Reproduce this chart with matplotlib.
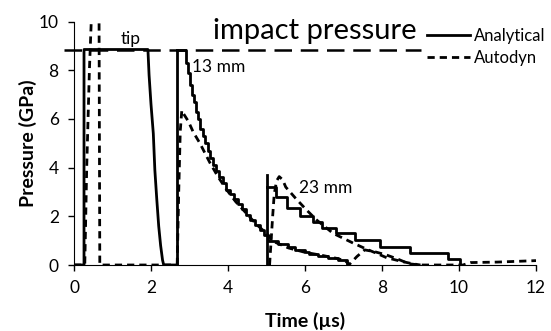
import matplotlib.pyplot as plt

plt.rcParams['font.family'] = ['Lato', 'DejaVu Sans']

# impact pressure level (GPa)
impact_pressure = 8.85

# Analytical, tip
tip_ana_t = [0.0, 0.26, 0.26, 1.92, 1.95, 2.0, 2.06, 2.1, 2.15, 2.2, 2.25, 2.3, 2.33, 2.67]
tip_ana_p = [0.0, 0.0, 8.85, 8.85, 7.8, 6.6, 5.4, 3.9, 2.7, 1.6, 0.8, 0.2, 0.0, 0.0]

# Analytical, 13 mm (stepped)
mm13_ana_t = [2.67, 2.92, 2.97, 3.02, 3.07, 3.12, 3.17, 3.22, 3.28, 3.34, 3.40, 3.47,
              3.54, 3.61, 3.69, 3.77, 3.86, 3.95, 4.05, 4.15, 4.25, 4.36, 4.47, 4.58,
              4.70, 4.82, 4.93, 5.03, 5.3, 5.55, 5.75, 6.0, 6.1, 6.35, 6.6, 6.85, 7.08]
mm13_ana_p = [8.85, 8.3, 7.9, 7.4, 7.0, 6.7, 6.3, 6.0, 5.6, 5.3, 5.0, 4.7,
              4.4, 4.1, 3.85, 3.6, 3.35, 3.1, 2.9, 2.7, 2.5, 2.3, 2.05, 1.85,
              1.65, 1.45, 1.25, 1.0, 0.85, 0.75, 0.62, 0.52, 0.45, 0.35, 0.28, 0.2, 0.0]

# Analytical, 23 mm (stepped)
mm23_ana_t = [5.0, 5.24, 5.53, 5.87, 6.2, 6.45, 6.8, 7.3, 7.95, 8.73, 9.72, 10.03]
mm23_ana_p = [3.2, 2.8, 2.35, 2.0, 1.75, 1.5, 1.3, 1.03, 0.75, 0.5, 0.25, 0.0]
mm23_ana_peak = 3.7

# Autodyn, tip (goes off scale)
tip_dyn_t = [0.0, 0.28, 0.33, 0.4, 0.46, 0.55, 0.65, 0.67, 2.68]
tip_dyn_p = [0.0, 0.0, 4.0, 8.0, 10.5, 12.0, 10.5, 0.0, 0.0]

# Autodyn, 13 mm
mm13_dyn_t = [2.68, 2.72, 2.76, 2.80, 2.85, 2.97, 3.1, 3.27, 3.53, 3.75, 3.97, 4.2, 4.49,
              4.75, 5.0, 5.2, 5.57, 6.0, 6.43, 6.8, 7.04, 7.15, 7.35, 7.55, 7.8, 8.1,
              8.4, 8.7, 9.0, 10.1, 10.3, 11.0, 12.0]
mm13_dyn_p = [0.0, 3.0, 5.5, 6.35, 6.2, 5.9, 5.45, 5.0, 4.2, 3.6, 3.08, 2.6, 2.1,
              1.65, 1.3, 0.95, 0.7, 0.52, 0.4, 0.28, 0.18, 0.02, 0.35, 0.62, 0.55, 0.42,
              0.25, 0.05, 0.0, 0.0, 0.1, 0.12, 0.18]

# Autodyn, 23 mm
mm23_dyn_t = [5.08, 5.12, 5.16, 5.2, 5.26, 5.33, 5.42, 5.5, 5.75, 6.04, 6.3, 6.73, 7.25,
              7.6, 7.86, 8.12, 8.5, 8.8, 9.0]
mm23_dyn_p = [0.0, 1.0, 2.0, 2.9, 3.45, 3.63, 3.5, 3.2, 2.75, 2.26, 1.85, 1.3, 0.9,
              0.65, 0.48, 0.3, 0.15, 0.05, 0.0]

fig = plt.figure(figsize=(5.51, 3.31), dpi=100)
ax = fig.add_axes([74 / 551, 66 / 331, 462 / 551, 243.5 / 331])

lw = 2.0
dash = (0, (2.6, 1.8))

ax.plot(tip_ana_t, tip_ana_p, color='black', lw=lw, label='Analytical')
ax.step(mm13_ana_t, mm13_ana_p, where='post', color='black', lw=lw)
ax.plot([mm13_ana_t[0], mm13_ana_t[0]], [0, mm13_ana_p[0]], color='black', lw=lw)
ax.step(mm23_ana_t, mm23_ana_p, where='post', color='black', lw=lw)
ax.plot([mm23_ana_t[0], mm23_ana_t[0]], [0, mm23_ana_peak], color='black', lw=lw)

ax.plot(tip_dyn_t, tip_dyn_p, color='black', lw=lw, linestyle=dash, label='Autodyn')
ax.plot(mm13_dyn_t, mm13_dyn_p, color='black', lw=lw, linestyle=dash)
ax.plot(mm23_dyn_t, mm23_dyn_p, color='black', lw=lw, linestyle=dash)

ax.plot([-0.25, 9.0], [impact_pressure, impact_pressure], color='black', lw=1.8,
        linestyle=(0, (7, 3.5)), clip_on=False)

ax.text(1.2, 9.3, 'tip', fontsize=12.5, va='center')
ax.text(3.06, 8.15, '13 mm', fontsize=12.5, va='center')
ax.text(5.85, 3.15, '23 mm', fontsize=12.5, va='center')
ax.text(3.62, 9.6, 'impact pressure', fontsize=21, va='center')

ax.set_xlim(0, 12)
ax.set_ylim(0, 10)
ax.set_xticks(range(0, 13, 2))
ax.set_yticks(range(0, 11, 2))
ax.spines['top'].set_visible(False)
ax.spines['right'].set_visible(False)
ax.tick_params(direction='out', length=4, width=1, labelsize=12.5, pad=7)
ax.set_xlabel('Time (µs)', fontsize=14, fontweight='bold', labelpad=11)
ax.set_ylabel('Pressure (GPa)', fontsize=14, fontweight='bold', labelpad=1)

fig.legend(loc='upper left', bbox_to_anchor=(427 / 551, 1 - 28 / 331), frameon=False,
           fontsize=12, handlelength=2.6, handletextpad=0.2, borderpad=0,
           borderaxespad=0, labelspacing=0.35)

fig.savefig('out.png', dpi=100)
